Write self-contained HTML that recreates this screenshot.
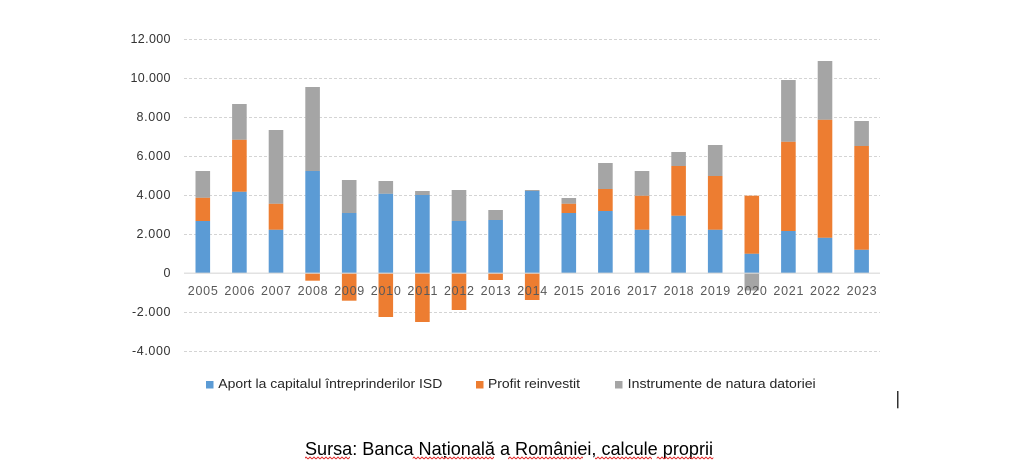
<!DOCTYPE html>
<html>
<head>
<meta charset="utf-8">
<style>
html,body{margin:0;padding:0;background:#fff;}
svg{display:block;}
text{font-family:"Liberation Sans",sans-serif;}
</style>
</head>
<body>
<svg width="1013" height="465" viewBox="0 0 1013 465" xmlns="http://www.w3.org/2000/svg">
<defs>
<pattern id="w" x="0" y="0" width="4" height="4" patternUnits="userSpaceOnUse">
<path d="M0,3 L2,1 L4,3" stroke="#e02020" fill="none" stroke-width="0.9"/>
</pattern>
</defs>
<rect width="1013" height="465" fill="#fff"/>
<!-- gridlines -->
<g stroke="#d4d4d4" stroke-width="1" stroke-dasharray="3,2">
<line x1="184" y1="39.5" x2="880" y2="39.5"/>
<line x1="184" y1="78.5" x2="880" y2="78.5"/>
<line x1="184" y1="117.5" x2="880" y2="117.5"/>
<line x1="184" y1="156.5" x2="880" y2="156.5"/>
<line x1="184" y1="195.5" x2="880" y2="195.5"/>
<line x1="184" y1="234.5" x2="880" y2="234.5"/>
<line x1="184" y1="312.5" x2="880" y2="312.5"/>
<line x1="184" y1="351.5" x2="880" y2="351.5"/>
</g>
<!-- y labels -->
<g font-size="12.5" fill="#333" text-anchor="end">
<text x="170.5" y="43" textLength="40" lengthAdjust="spacing">12.000</text>
<text x="170.5" y="82" textLength="40" lengthAdjust="spacing">10.000</text>
<text x="170.5" y="121" textLength="34" lengthAdjust="spacing">8.000</text>
<text x="170.5" y="160" textLength="34" lengthAdjust="spacing">6.000</text>
<text x="170.5" y="199" textLength="34" lengthAdjust="spacing">4.000</text>
<text x="170.5" y="238" textLength="34" lengthAdjust="spacing">2.000</text>
<text x="170.5" y="277">0</text>
<text x="170.5" y="316" textLength="38.5" lengthAdjust="spacing">-2.000</text>
<text x="170.5" y="355" textLength="38.5" lengthAdjust="spacing">-4.000</text>
</g>
<!-- bars -->
<g>
<!-- 2005 c=202.8 -->
<rect x="195.5" y="221" width="14.6" height="52" fill="#5B9BD5"/>
<rect x="195.5" y="197.7" width="14.6" height="23.3" fill="#ED7D31"/>
<rect x="195.5" y="171" width="14.6" height="26.7" fill="#A5A5A5"/>
<!-- 2006 c=239.4 -->
<rect x="232.1" y="191.7" width="14.6" height="81.3" fill="#5B9BD5"/>
<rect x="232.1" y="139.7" width="14.6" height="52" fill="#ED7D31"/>
<rect x="232.1" y="104" width="14.6" height="35.7" fill="#A5A5A5"/>
<!-- 2007 c=276 -->
<rect x="268.7" y="229.7" width="14.6" height="43.3" fill="#5B9BD5"/>
<rect x="268.7" y="203.7" width="14.6" height="26" fill="#ED7D31"/>
<rect x="268.7" y="130" width="14.6" height="73.7" fill="#A5A5A5"/>
<!-- 2008 c=312.6 -->
<rect x="305.3" y="171" width="14.6" height="102" fill="#5B9BD5"/>
<rect x="305.3" y="87" width="14.6" height="84" fill="#A5A5A5"/>
<rect x="305.3" y="273" width="14.6" height="7.7" fill="#ED7D31"/>
<!-- 2009 c=349.2 -->
<rect x="341.9" y="213" width="14.6" height="60" fill="#5B9BD5"/>
<rect x="341.9" y="180" width="14.6" height="33" fill="#A5A5A5"/>
<rect x="341.9" y="273" width="14.6" height="27.7" fill="#ED7D31"/>
<!-- 2010 c=385.8 -->
<rect x="378.5" y="193.7" width="14.6" height="79.3" fill="#5B9BD5"/>
<rect x="378.5" y="181" width="14.6" height="12.7" fill="#A5A5A5"/>
<rect x="378.5" y="273" width="14.6" height="44" fill="#ED7D31"/>
<!-- 2011 c=422.4 -->
<rect x="415.1" y="195" width="14.6" height="78" fill="#5B9BD5"/>
<rect x="415.1" y="191" width="14.6" height="4" fill="#A5A5A5"/>
<rect x="415.1" y="273" width="14.6" height="49" fill="#ED7D31"/>
<!-- 2012 c=459 -->
<rect x="451.7" y="221" width="14.6" height="52" fill="#5B9BD5"/>
<rect x="451.7" y="190" width="14.6" height="31" fill="#A5A5A5"/>
<rect x="451.7" y="273" width="14.6" height="37" fill="#ED7D31"/>
<!-- 2013 c=495.6 -->
<rect x="488.3" y="220" width="14.6" height="53" fill="#5B9BD5"/>
<rect x="488.3" y="210" width="14.6" height="10" fill="#A5A5A5"/>
<rect x="488.3" y="273" width="14.6" height="7" fill="#ED7D31"/>
<!-- 2014 c=532.2 -->
<rect x="524.9" y="191" width="14.6" height="82" fill="#5B9BD5"/>
<rect x="524.9" y="190" width="14.6" height="1" fill="#A5A5A5"/>
<rect x="524.9" y="273" width="14.6" height="27" fill="#ED7D31"/>
<!-- 2015 c=568.8 -->
<rect x="561.5" y="213" width="14.6" height="60" fill="#5B9BD5"/>
<rect x="561.5" y="203.7" width="14.6" height="9.3" fill="#ED7D31"/>
<rect x="561.5" y="198" width="14.6" height="5.7" fill="#A5A5A5"/>
<!-- 2016 c=605.4 -->
<rect x="598.1" y="211" width="14.6" height="62" fill="#5B9BD5"/>
<rect x="598.1" y="189" width="14.6" height="22" fill="#ED7D31"/>
<rect x="598.1" y="163" width="14.6" height="26" fill="#A5A5A5"/>
<!-- 2017 c=642 -->
<rect x="634.7" y="229.7" width="14.6" height="43.3" fill="#5B9BD5"/>
<rect x="634.7" y="195.7" width="14.6" height="34" fill="#ED7D31"/>
<rect x="634.7" y="171" width="14.6" height="24.7" fill="#A5A5A5"/>
<!-- 2018 c=678.6 -->
<rect x="671.3" y="215.7" width="14.6" height="57.3" fill="#5B9BD5"/>
<rect x="671.3" y="166" width="14.6" height="49.7" fill="#ED7D31"/>
<rect x="671.3" y="152" width="14.6" height="14" fill="#A5A5A5"/>
<!-- 2019 c=715.2 -->
<rect x="707.9" y="229.7" width="14.6" height="43.3" fill="#5B9BD5"/>
<rect x="707.9" y="176" width="14.6" height="53.7" fill="#ED7D31"/>
<rect x="707.9" y="145" width="14.6" height="31" fill="#A5A5A5"/>
<!-- 2020 c=751.8 -->
<rect x="744.5" y="253.7" width="14.6" height="19.3" fill="#5B9BD5"/>
<rect x="744.5" y="195.7" width="14.6" height="58" fill="#ED7D31"/>
<rect x="744.5" y="273" width="14.6" height="17.5" fill="#A5A5A5"/>
<!-- 2021 c=788.4 -->
<rect x="781.1" y="231" width="14.6" height="42" fill="#5B9BD5"/>
<rect x="781.1" y="141.7" width="14.6" height="89.3" fill="#ED7D31"/>
<rect x="781.1" y="80" width="14.6" height="61.7" fill="#A5A5A5"/>
<!-- 2022 c=825 -->
<rect x="817.7" y="237.7" width="14.6" height="35.3" fill="#5B9BD5"/>
<rect x="817.7" y="119.7" width="14.6" height="118" fill="#ED7D31"/>
<rect x="817.7" y="61" width="14.6" height="58.7" fill="#A5A5A5"/>
<!-- 2023 c=861.6 -->
<rect x="854.3" y="249.7" width="14.6" height="23.3" fill="#5B9BD5"/>
<rect x="854.3" y="146" width="14.6" height="103.7" fill="#ED7D31"/>
<rect x="854.3" y="121" width="14.6" height="25" fill="#A5A5A5"/>
</g>
<!-- zero axis -->
<line x1="184" y1="273.2" x2="880" y2="273.2" stroke="#d9d9d9" stroke-width="1.2"/>
<!-- year labels -->
<g font-size="12.5" fill="#595959" text-anchor="middle">
<text x="202.8" y="295" textLength="30" lengthAdjust="spacing">2005</text>
<text x="239.4" y="295" textLength="30" lengthAdjust="spacing">2006</text>
<text x="276" y="295" textLength="30" lengthAdjust="spacing">2007</text>
<text x="312.6" y="295" textLength="30" lengthAdjust="spacing">2008</text>
<text x="349.2" y="295" textLength="30" lengthAdjust="spacing">2009</text>
<text x="385.8" y="295" textLength="30" lengthAdjust="spacing">2010</text>
<text x="422.4" y="295" textLength="30" lengthAdjust="spacing">2011</text>
<text x="459" y="295" textLength="30" lengthAdjust="spacing">2012</text>
<text x="495.6" y="295" textLength="30" lengthAdjust="spacing">2013</text>
<text x="532.2" y="295" textLength="30" lengthAdjust="spacing">2014</text>
<text x="568.8" y="295" textLength="30" lengthAdjust="spacing">2015</text>
<text x="605.4" y="295" textLength="30" lengthAdjust="spacing">2016</text>
<text x="642" y="295" textLength="30" lengthAdjust="spacing">2017</text>
<text x="678.6" y="295" textLength="30" lengthAdjust="spacing">2018</text>
<text x="715.2" y="295" textLength="30" lengthAdjust="spacing">2019</text>
<text x="751.8" y="295" textLength="30" lengthAdjust="spacing">2020</text>
<text x="788.4" y="295" textLength="30" lengthAdjust="spacing">2021</text>
<text x="825" y="295" textLength="30" lengthAdjust="spacing">2022</text>
<text x="861.6" y="295" textLength="30" lengthAdjust="spacing">2023</text>
</g>
<!-- legend -->
<rect x="206" y="381" width="7.5" height="7.5" fill="#5B9BD5"/>
<text x="218.3" y="388" font-size="13" fill="#262626" textLength="224" lengthAdjust="spacingAndGlyphs">Aport la capitalul întreprinderilor ISD</text>
<rect x="476" y="381" width="7.5" height="7.5" fill="#ED7D31"/>
<text x="488" y="388" font-size="13" fill="#262626" textLength="92" lengthAdjust="spacingAndGlyphs">Profit reinvestit</text>
<rect x="615" y="381" width="7.5" height="7.5" fill="#A5A5A5"/>
<text x="627.7" y="388" font-size="13" fill="#262626" textLength="188" lengthAdjust="spacingAndGlyphs">Instrumente de natura datoriei</text>
<!-- cursor -->
<rect x="897.2" y="391" width="1.2" height="17.3" fill="#000"/>
<!-- source -->
<text x="305" y="455" font-size="18.5" fill="#000" textLength="408" lengthAdjust="spacingAndGlyphs">Sursa: Banca Națională a României, calcule proprii</text>
<g fill="url(#w)">
<rect x="305" y="456" width="45" height="4"/>
<rect x="412.7" y="456" width="81.3" height="4"/>
<rect x="508" y="456" width="75" height="4"/>
<rect x="595" y="456" width="57" height="4"/>
<rect x="656.7" y="456" width="56.6" height="4"/>
</g>
</svg>
</body>
</html>
